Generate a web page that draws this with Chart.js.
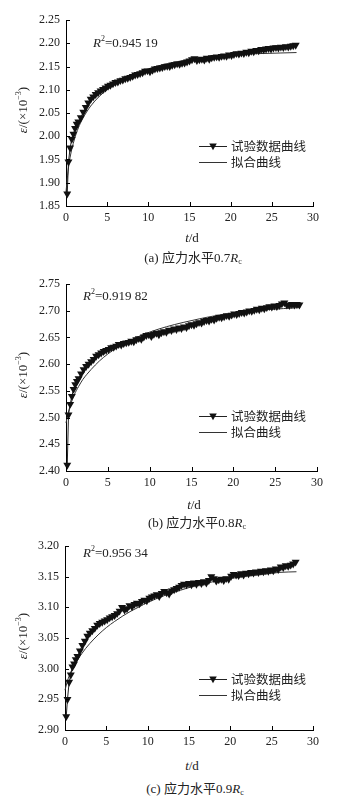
<!DOCTYPE html>
<html><head><meta charset="utf-8">
<script src="https://cdn.jsdelivr.net/npm/chart.js@4.4.0/dist/chart.umd.min.js"></script>
<style>
html,body{margin:0;padding:0;background:#fff;}
body{width:357px;height:804px;position:relative;overflow:hidden;font-family:"Liberation Serif",serif;color:#222;}
.box{position:absolute;left:0;width:357px;}
.lbl{position:absolute;white-space:nowrap;font-family:"Liberation Serif",serif;color:#222;font-size:13px;line-height:1;}
.cjk{font-family:"Noto Sans CJK SC",sans-serif;}
.ytitle{transform:translate(-50%,-50%) rotate(-90deg);}
.cen{transform:translate(-50%,-50%);}
sup{font-size:8px;vertical-align:6px;line-height:0;}
sub{font-size:8px;vertical-align:-2px;line-height:0;}
</style></head><body>
<div class="box" style="top:0;height:230px"><canvas id="ca" width="357" height="230"></canvas></div>
<div class="box" style="top:264px;height:231px"><canvas id="cb" width="357" height="231"></canvas></div>
<div class="box" style="top:526px;height:228px"><canvas id="cc" width="357" height="228"></canvas></div>

<div class="lbl" style="left:93px;top:36px"><i>R</i><sup>2</sup>=0.945 19</div>
<div class="lbl" style="left:83px;top:289px"><i>R</i><sup>2</sup>=0.919 82</div>
<div class="lbl" style="left:83px;top:546px"><i>R</i><sup>2</sup>=0.956 34</div>

<div class="lbl ytitle" style="left:22px;top:110px"><i>ε</i>/(×10<sup>−3</sup>)</div>
<div class="lbl ytitle" style="left:22px;top:375px"><i>ε</i>/(×10<sup>−3</sup>)</div>
<div class="lbl ytitle" style="left:22px;top:636px"><i>ε</i>/(×10<sup>−3</sup>)</div>

<div class="lbl cen" style="left:192px;top:237px"><i>t</i>/d</div>
<div class="lbl cen" style="left:194px;top:504px"><i>t</i>/d</div>
<div class="lbl cen" style="left:192px;top:765px"><i>t</i>/d</div>

<div class="lbl cen" style="left:193px;top:257px">(a) <span class="cjk">应力水平</span>0.7<i>R</i><sub>c</sub></div>
<div class="lbl cen" style="left:197px;top:522px">(b) <span class="cjk">应力水平</span>0.8<i>R</i><sub>c</sub></div>
<div class="lbl cen" style="left:195px;top:788px">(c) <span class="cjk">应力水平</span>0.9<i>R</i><sub>c</sub></div>

<script>
// ---- data (time in days) ----
const days = [
0.15, 0.3, 0.5, 0.7, 0.9, 1.1, 1.3, 1.5, 1.8, 2.1, 2.4, 2.7,
3.0, 3.3, 3.6, 3.9, 4.2, 4.5, 4.8, 5.1, 5.4, 5.7, 6.0, 6.3,
6.6, 6.9, 7.2, 7.5, 7.8, 8.1, 8.4, 8.7, 9.0, 9.3, 9.6, 9.9,
10.2, 10.5, 10.8, 11.1, 11.4, 11.7, 12.0, 12.3, 12.6, 12.9, 13.2, 13.5,
13.8, 14.1, 14.4, 14.7, 15.0, 15.3, 15.6, 15.9, 16.2, 16.5, 16.8, 17.1,
17.4, 17.7, 18.0, 18.3, 18.6, 18.9, 19.2, 19.5, 19.8, 20.1, 20.4, 20.7,
21.0, 21.3, 21.6, 21.9, 22.2, 22.5, 22.8, 23.1, 23.4, 23.7, 24.0, 24.3,
24.6, 24.9, 25.2, 25.5, 25.8, 26.1, 26.4, 26.7, 27.0, 27.3, 27.6, 27.9
];
const strainA = [
1.876, 1.945, 1.975, 1.994, 2.005, 2.017, 2.026, 2.031, 2.040, 2.052, 2.062, 2.072,
2.080, 2.085, 2.090, 2.094, 2.098, 2.101, 2.104, 2.108, 2.110, 2.113, 2.116, 2.117,
2.120, 2.121, 2.124, 2.125, 2.127, 2.129, 2.132, 2.133, 2.135, 2.137, 2.140, 2.141,
2.139, 2.142, 2.145, 2.146, 2.147, 2.148, 2.150, 2.151, 2.150, 2.153, 2.154, 2.156,
2.155, 2.157, 2.158, 2.160, 2.162, 2.165, 2.167, 2.163, 2.165, 2.166, 2.164, 2.168,
2.166, 2.169, 2.170, 2.171, 2.170, 2.172, 2.173, 2.172, 2.175, 2.174, 2.176, 2.178,
2.177, 2.179, 2.178, 2.181, 2.180, 2.183, 2.182, 2.185, 2.184, 2.187, 2.186, 2.188,
2.189, 2.188, 2.190, 2.191, 2.190, 2.192, 2.191, 2.193, 2.192, 2.194, 2.195, 2.196
];
const strainB = [
2.411, 2.505, 2.525, 2.540, 2.553, 2.562, 2.568, 2.573, 2.582, 2.590, 2.596, 2.600,
2.605, 2.609, 2.615, 2.618, 2.621, 2.624, 2.626, 2.628, 2.631, 2.632, 2.634, 2.637,
2.636, 2.639, 2.640, 2.641, 2.643, 2.642, 2.646, 2.648, 2.647, 2.651, 2.654, 2.655,
2.652, 2.656, 2.658, 2.655, 2.659, 2.661, 2.660, 2.664, 2.663, 2.666, 2.665, 2.668,
2.667, 2.670, 2.669, 2.672, 2.674, 2.673, 2.676, 2.678, 2.677, 2.680, 2.682, 2.681,
2.684, 2.683, 2.686, 2.688, 2.687, 2.689, 2.691, 2.690, 2.692, 2.694, 2.693, 2.695,
2.697, 2.696, 2.698, 2.700, 2.699, 2.701, 2.703, 2.702, 2.705, 2.704, 2.706, 2.708,
2.707, 2.709, 2.708, 2.710, 2.713, 2.715, 2.711, 2.710, 2.712, 2.711, 2.712, 2.711
];
const strainC = [
2.922, 2.950, 2.978, 2.990, 3.003, 3.008, 3.015, 3.020, 3.029, 3.038, 3.045, 3.053,
3.058, 3.062, 3.066, 3.071, 3.074, 3.076, 3.078, 3.080, 3.083, 3.085, 3.087, 3.090,
3.094, 3.100, 3.096, 3.098, 3.103, 3.101, 3.105, 3.107, 3.106, 3.110, 3.112, 3.111,
3.115, 3.117, 3.119, 3.121, 3.118, 3.123, 3.126, 3.124, 3.122, 3.127, 3.129, 3.131,
3.133, 3.136, 3.138, 3.137, 3.139, 3.137, 3.140, 3.138, 3.141, 3.139, 3.142, 3.140,
3.144, 3.150, 3.147, 3.143, 3.145, 3.146, 3.144, 3.147, 3.146, 3.151, 3.154, 3.153,
3.152, 3.155, 3.153, 3.156, 3.155, 3.157, 3.156, 3.158, 3.157, 3.159, 3.158, 3.160,
3.159, 3.161, 3.160, 3.163, 3.162, 3.166, 3.165, 3.168, 3.167, 3.169, 3.171, 3.174
];
// fitted curves
const fitDays = [0, 0.25, 0.5, 1, 1.5, 2, 2.5, 3, 4, 5, 6, 7, 8, 9, 10, 12, 14, 16, 18, 20, 22, 24, 26, 28];
const fitA = [1.880, 1.925, 1.955, 1.992, 2.018, 2.037, 2.052, 2.065, 2.085, 2.100, 2.112, 2.122, 2.131, 2.139, 2.145, 2.155, 2.162, 2.168, 2.172, 2.175, 2.177, 2.178, 2.179, 2.180];
const fitB = [2.490, 2.508, 2.522, 2.543, 2.558, 2.571, 2.581, 2.590, 2.606, 2.619, 2.630, 2.639, 2.647, 2.654, 2.660, 2.670, 2.678, 2.685, 2.691, 2.695, 2.699, 2.702, 2.704, 2.706];
const fitC = [2.965, 2.978, 2.988, 3.003, 3.014, 3.024, 3.033, 3.041, 3.055, 3.067, 3.077, 3.086, 3.094, 3.101, 3.108, 3.119, 3.128, 3.136, 3.142, 3.147, 3.151, 3.154, 3.157, 3.158];

const seriesNames = ['试验数据曲线', '拟合曲线'];
const xTicks = [0, 5, 10, 15, 20, 25, 30];
const yRangeA = [1.85, 2.25];
const yRangeB = [2.40, 2.75];
const yRangeC = [2.90, 3.20];

// ---- plugins ----
const inwardTicks = {
  id: 'inwardTicks',
  afterDraw(chart) {
    const {ctx, scales: {x, y}} = chart;
    ctx.save();
    ctx.strokeStyle = '#000';
    ctx.lineWidth = 1;
    x.ticks.forEach(t => {
      const px = Math.round(x.getPixelForValue(t.value)) + 0.5;
      ctx.beginPath(); ctx.moveTo(px, x.top); ctx.lineTo(px, x.top - 4); ctx.stroke();
    });
    y.ticks.forEach(t => {
      const py = Math.round(y.getPixelForValue(t.value)) + 0.5;
      ctx.beginPath(); ctx.moveTo(y.right, py); ctx.lineTo(y.right + 4, py); ctx.stroke();
    });
    ctx.restore();
  }
};
const innerLegend = {
  id: 'innerLegend',
  afterDraw(chart, args, opts) {
    const ctx = chart.ctx;
    ctx.save();
    chart.data.datasets.forEach((ds, i) => {
      const yy = opts.y + i * opts.gap;
      ctx.strokeStyle = ds.borderColor;
      ctx.lineWidth = 1;
      ctx.beginPath(); ctx.moveTo(opts.x, yy + 0.5); ctx.lineTo(opts.x + 28, yy + 0.5); ctx.stroke();
      if (ds.pointRadius > 0) {
        const cx = opts.x + 14;
        ctx.fillStyle = '#111';
        ctx.beginPath();
        ctx.moveTo(cx - 3.8, yy - 2.4); ctx.lineTo(cx + 3.8, yy - 2.4); ctx.lineTo(cx, yy + 4.2);
        ctx.closePath(); ctx.fill();
      }
      ctx.fillStyle = '#222';
      ctx.font = '12.5px "Noto Sans CJK SC", sans-serif';
      ctx.textBaseline = 'middle';
      ctx.fillText(ds.label, opts.x + 32, yy + 0.5);
    });
    ctx.restore();
  }
};

function makeChart(id, data, fit, yr, padRight, axisW, legendY) {
  new Chart(document.getElementById(id), {
    type: 'line',
    data: {
      datasets: [
        {
          label: seriesNames[0],
          data: days.map((d, i) => ({x: d, y: data[i]})),
          borderColor: '#222', borderWidth: 1,
          pointStyle: 'triangle', rotation: 180, pointRadius: 4.6,
          pointBackgroundColor: '#111', pointBorderColor: '#111', pointBorderWidth: 0,
          tension: 0, clip: false
        },
        {
          label: seriesNames[1],
          data: fitDays.map((d, i) => ({x: d, y: fit[i]})),
          borderColor: '#333', borderWidth: 1,
          pointRadius: 0, tension: 0.4, cubicInterpolationMode: 'monotone', clip: false
        }
      ]
    },
    options: {
      responsive: false, animation: false, events: [],
      layout: {padding: {top: 20, right: padRight, left: 0, bottom: 0}},
      plugins: {legend: {display: false}, tooltip: {enabled: false},
        innerLegend: {x: 199, y: legendY, gap: 16}},
      scales: {
        x: {
          type: 'linear', min: 0, max: 30,
          afterBuildTicks: s => { s.ticks = xTicks.map(v => ({value: v})); },
          ticks: {font: {family: 'Liberation Serif', size: 12}, color: '#222', padding: 5, maxRotation: 0},
          grid: {display: false, drawTicks: false},
          border: {display: true, color: '#000', width: 1},
          afterFit: s => { s.height = 24; }
        },
        y: {
          type: 'linear', min: yr[0], max: yr[1],
          ticks: {stepSize: 0.05, font: {family: 'Liberation Serif', size: 12}, color: '#222', padding: 6,
            callback: v => Number(v).toFixed(2)},
          grid: {display: false, drawTicks: false},
          border: {display: true, color: '#000', width: 1},
          afterFit: s => { s.width = axisW; }
        }
      }
    },
    plugins: [inwardTicks, innerLegend]
  });
}
makeChart('ca', strainA, fitA, yRangeA, 44, 66, 146);
makeChart('cb', strainB, fitB, yRangeB, 40, 66, 152);
makeChart('cc', strainC, fitC, yRangeC, 44, 65, 153);
</script>
</body></html>
